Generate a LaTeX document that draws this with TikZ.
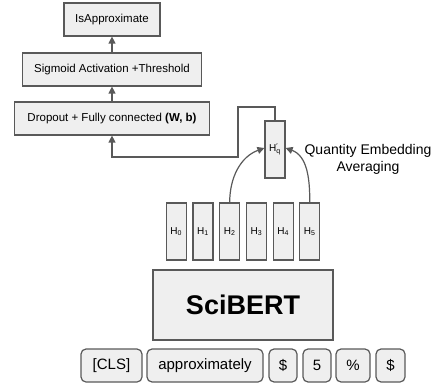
\documentclass[tikz,border=0pt]{standalone}
\usepackage{fontspec}
\setmainfont{Liberation Sans}
\usetikzlibrary{arrows.meta}
\definecolor{boxfill}{HTML}{EFEFEF}
\definecolor{boxline}{HTML}{595959}
\begin{document}
\begin{tikzpicture}[x=1pt,y=-1pt]

      \useasboundingbox (0,0) rectangle (438,387);

      % classifier head
      \begin{scope}[every node/.style={draw=boxline,fill=boxfill,line width=1.2pt,inner sep=0pt,
          minimum height=33pt,font=\fontsize{11.5}{13}\selectfont}]
        \node[minimum width=96pt]  (isapprox) at (112,19.5)  {IsApproximate};
        \node[minimum width=179pt] (sigmoid)  at (112,69.5)  {Sigmoid Activation +Threshold};
        \node[minimum width=195pt] (dropout)  at (112,118.5) {Dropout + Fully connected \textbf{(W, b)}};
      \end{scope}

      % hidden states
      \begin{scope}[every node/.style={draw=boxline,fill=boxfill,line width=1.2pt,inner sep=0pt,
          minimum width=20pt,minimum height=57pt,font=\fontsize{10}{12}\selectfont}]
        \node (hq) at (275,149.5) {H\rlap{\raisebox{3pt}{\fontsize{7}{7}\selectfont\char"2032}}\textsubscript{q}};
        \node (h0) at (176.3,231.5) {H\textsubscript{0}};
        \node (h1) at (203,231.5)   {H\textsubscript{1}};
        \node (h2) at (229.7,231.5) {H\textsubscript{2}};
        \node (h3) at (256.4,231.5) {H\textsubscript{3}};
        \node (h4) at (283.1,231.5) {H\textsubscript{4}};
        \node (h5) at (309.8,231.5) {H\textsubscript{5}};
      \end{scope}

      \node[draw=boxline,fill=boxfill,line width=1.2pt,minimum width=180pt,minimum height=70pt,
        font=\fontsize{27}{30}\selectfont\bfseries] (scibert) at (243,305) {SciBERT};

      % input tokens
      \begin{scope}[every node/.style={draw=boxline,fill=boxfill,line width=1.2pt,inner sep=0pt,
          rounded corners=5pt,minimum height=33pt,font=\fontsize{15}{17}\selectfont}]
        \node[minimum width=61pt]  (cls)    at (111.5,365.5) {[CLS]};
        \node[minimum width=116pt] (approx) at (205,365.5)   {approximately};
        \node[minimum width=28pt]  (dollar) at (283,365.5)   {\$};
        \node[minimum width=28pt]  (five)   at (317,365.5)   {5};
        \node[minimum width=34pt]  (pct)    at (353,365.5)   {\%};
        \node[minimum width=29pt]  (dollarb) at (390.5,365.5) {\$};
      \end{scope}

      \node[align=center,font=\fontsize{14}{17}\selectfont] (avglabel) at (368,159.5)
        {Quantity Embedding\\Averaging};

      \coordinate (turna) at (238,107);
      \coordinate (turnb) at (238,157);

      \begin{scope}[every path/.style={draw=boxline,line width=1.2pt,
          -{Triangle[width=7pt,length=7pt]}}]
        \path (sigmoid.north) -- (isapprox.south);
        \path (dropout.north) -- (sigmoid.south);
        \path (hq.north) |- (turna) -- (turnb) -| (dropout.south);
        \path (h2.north) to[out=90,in=200] ([yshift=1.5pt]hq.west);
        \path (h5.north) to[out=90,in=-20] ([yshift=1.5pt]hq.east);
      \end{scope}

    \end{tikzpicture}
\end{document}
